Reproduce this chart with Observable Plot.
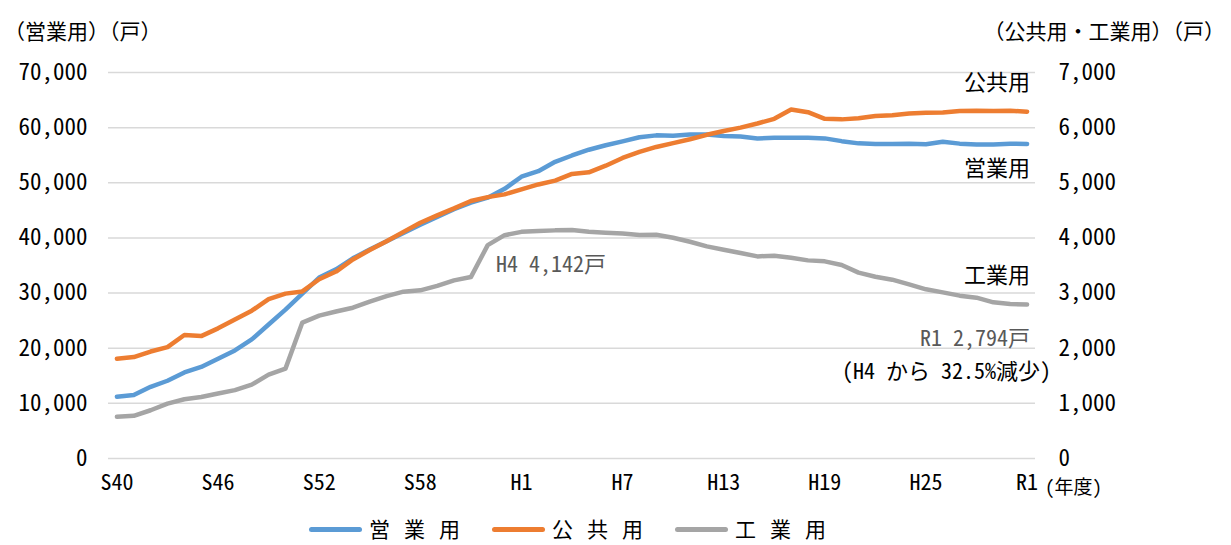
<!DOCTYPE html>
<html><head><meta charset="utf-8">
<script src="https://cdn.jsdelivr.net/npm/d3@7"></script>
<script src="https://cdn.jsdelivr.net/npm/@observablehq/plot@0.6"></script>
<style>
body{margin:0;background:#fff;font-family:'Noto Sans CJK JP',sans-serif;font-feature-settings:"hwid";color:#000;}
#wrap{position:relative;width:1231px;height:545px;background:#fff;}
#chart svg{position:absolute;left:0;top:0;}
.title{position:absolute;top:18px;font-size:21px;line-height:24px;white-space:nowrap;font-feature-settings:normal;}
#unitX{position:absolute;left:1045px;top:474px;font-size:19px;line-height:24px;white-space:nowrap;}
#legend{position:absolute;left:309px;top:517px;height:22px;display:flex;align-items:center;font-size:21px;line-height:22px;white-space:nowrap;}
.item{display:flex;align-items:center;margin-right:32px;height:22px;}
.sw{width:53px;height:5px;border-radius:3px;margin-right:7px;margin-top:2px;}
.lt{display:inline-block;height:22px;line-height:22px;word-spacing:3.5px;white-space:pre;}
</style></head>
<body>
<div id="wrap">
  <div id="chart"></div>
  <div class="title" style="left:4px">（営業用）（戸）</div>
  <div class="title" style="right:6px">（公共用・工業用）（戸）</div>
  <div id="unitX">(年度)</div>
  <div id="legend"></div>
</div>
<script>
// ---- data ----
const years = [1965,1966,1967,1968,1969,1970,1971,1972,1973,1974,1975,1976,1977,1978,1979,1980,1981,1982,1983,1984,1985,1986,1987,1988,1989,1990,1991,1992,1993,1994,1995,1996,1997,1998,1999,2000,2001,2002,2003,2004,2005,2006,2007,2008,2009,2010,2011,2012,2013,2014,2015,2016,2017,2018,2019];
const xTickYears = [1965,1971,1977,1983,1989,1995,2001,2007,2013,2019];
const xTickLabels = ["S40","S46","S52","S58","H1","H7","H13","H19","H25","R1"];
const seriesNames = ["営業用","公共用","工業用"];
const seriesColors = ["#5B9BD5","#ED7D31","#A5A5A5"];
// 営業用 (left axis, 戸)
const eigyo = [11200,11500,13000,14100,15600,16600,18100,19600,21600,24300,27000,29900,32800,34300,36300,37900,39400,40900,42400,43800,45200,46400,47300,48900,51100,52100,53800,54950,56000,56800,57500,58250,58600,58550,58750,58750,58500,58400,58050,58150,58150,58150,58050,57550,57150,57050,57050,57100,57000,57450,57100,56950,56950,57100,57050];
// 公共用 (right axis, 戸)
const koukyou = [1810,1840,1940,2020,2240,2220,2360,2520,2680,2890,2990,3030,3250,3390,3610,3780,3940,4110,4275,4410,4535,4670,4740,4790,4880,4970,5040,5160,5190,5310,5450,5560,5650,5720,5790,5870,5940,6000,6075,6160,6330,6280,6160,6150,6170,6210,6225,6255,6270,6275,6300,6305,6300,6305,6290];
// 工業用 (right axis, 戸)
const kougyou = [755,775,875,995,1075,1115,1180,1240,1340,1520,1630,2465,2590,2665,2735,2845,2945,3025,3050,3130,3230,3290,3870,4050,4110,4125,4137,4142,4112,4094,4082,4052,4058,4004,3931,3847,3786,3726,3665,3678,3641,3593,3575,3508,3370,3297,3243,3158,3068,3013,2953,2917,2832,2802,2794];
const leftTicks = [0,10000,20000,30000,40000,50000,60000,70000];
const rightTicks = [0,1000,2000,3000,4000,5000,6000,7000];

const ratio = leftTicks[leftTicks.length-1] / rightTicks[rightTicks.length-1];
const fmt = d3.format(",");

const rows = [];
years.forEach((yr, i) => {
  rows.push({year: yr, series: seriesNames[0], v: eigyo[i]});
  rows.push({year: yr, series: seriesNames[1], v: koukyou[i] * ratio});
  rows.push({year: yr, series: seriesNames[2], v: kougyou[i] * ratio});
});
const last = years.length - 1;
const iH4 = years.indexOf(1992);

const svg = Plot.plot({
  width: 1231,
  height: 505,
  marginLeft: 108,
  marginRight: 196,
  marginTop: 72,
  marginBottom: 47,
  style: {fontFamily: "'Noto Sans CJK JP', sans-serif", fontSize: "22px", fontFeatureSettings: '"hwid"', color: "#000", background: "#fff"},
  x: {domain: [years[0] - 0.5, years[last] + 0.5], label: null},
  y: {domain: [0, leftTicks[leftTicks.length-1]], label: null},
  color: {domain: seriesNames, range: seriesColors},
  marks: [
    Plot.gridY(leftTicks, {stroke: "#d9d9d9", strokeOpacity: 1, strokeWidth: 1.5}),
    Plot.axisY(leftTicks, {anchor: "left", tickSize: 0, tickPadding: 21, tickFormat: fmt, fontSize: 23, label: null}),
    Plot.axisY(rightTicks.map(t => t * ratio), {anchor: "right", tickSize: 0, tickPadding: 23, tickFormat: d => fmt(d / ratio), fontSize: 23, label: null}),
    Plot.axisX(xTickYears, {tickSize: 0, tickPadding: 16, tickFormat: d => xTickLabels[xTickYears.indexOf(d)], fontSize: 22, label: null}),
    Plot.line(rows, {x: "year", y: "v", z: "series", stroke: "series", strokeWidth: 4.5, strokeLinejoin: "round", strokeLinecap: "round"}),
    Plot.text([{year: years[last], v: koukyou[last] * ratio}], {x: "year", y: "v", text: () => seriesNames[1], textAnchor: "end", dx: 3, dy: -29, fontSize: 22, fill: "#000"}),
    Plot.text([{year: years[last], v: eigyo[last]}], {x: "year", y: "v", text: () => seriesNames[0], textAnchor: "end", dx: 3, dy: 25, fontSize: 22, fill: "#000"}),
    Plot.text([{year: years[last], v: kougyou[last] * ratio}], {x: "year", y: "v", text: () => seriesNames[2], textAnchor: "end", dx: 3, dy: -28, fontSize: 22, fill: "#000"}),
    Plot.text([{year: years[iH4], v: kougyou[iH4] * ratio}], {x: "year", y: "v", text: () => `H4 ${fmt(kougyou[iH4])}戸`, textAnchor: "start", dx: -76, dy: 35, fontSize: 22, fill: "#595959"}),
    Plot.text([{year: years[last], v: kougyou[last] * ratio}], {x: "year", y: "v", text: () => `R1 ${fmt(kougyou[last])}戸`, textAnchor: "end", dx: 3, dy: 35, fontSize: 22, fill: "#595959"}),
    Plot.text([{year: years[last], v: kougyou[last] * ratio}], {x: "year", y: "v", text: () => `（H4 から ${((1 - kougyou[last] / kougyou[iH4]) * 100).toFixed(1)}%減少）`, textAnchor: "end", dx: 24, dy: 68, fontSize: 22, fill: "#000"})
  ]
});
document.getElementById("chart").appendChild(svg);

const legend = document.getElementById("legend");
seriesNames.forEach((name, i) => {
  const item = document.createElement("div");
  item.className = "item";
  const sw = document.createElement("div");
  sw.className = "sw";
  sw.style.background = seriesColors[i];
  const t = document.createElement("span");
  t.className = "lt";
  t.textContent = name.split("").join(" ");
  item.appendChild(sw);
  item.appendChild(t);
  legend.appendChild(item);
});
</script>
</body></html>
